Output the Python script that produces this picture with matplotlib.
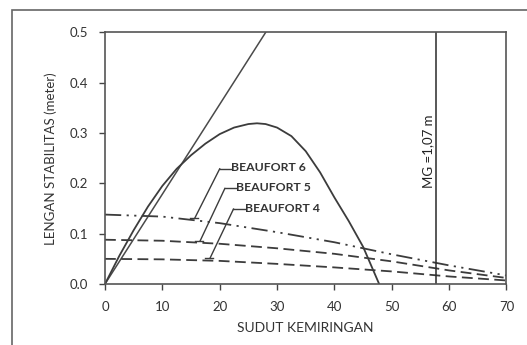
import matplotlib
matplotlib.use("Agg")
import matplotlib.pyplot as plt
from matplotlib.patches import Rectangle

plt.rcParams['font.family'] = ['Lato', 'DejaVu Sans']

# Heel angle (degrees) and righting arm GZ (m)
gz_angle = [0, 2.5, 5, 7.5, 10, 12.5, 15, 17.5, 20, 22.5, 25, 26.5, 28, 30, 32.5, 35, 37.5, 40, 42.5, 45, 47.8]
gz_value = [0, 0.056, 0.107, 0.154, 0.195, 0.229, 0.256, 0.279, 0.298, 0.311, 0.318, 0.3195, 0.318, 0.311, 0.294, 0.264, 0.222, 0.172, 0.125, 0.074, 0.0]

# Initial GM tangent line
tangent_angle = [0, 28.0]
tangent_value = [0, 0.5]

# Wind heeling arms
wind_angle = [0, 10, 20, 30, 40, 50, 60, 70]
beaufort6 = [0.138, 0.134, 0.121, 0.103, 0.083, 0.059, 0.037, 0.017]
beaufort5 = [0.088, 0.086, 0.080, 0.071, 0.060, 0.045, 0.027, 0.012]
beaufort4 = [0.050, 0.049, 0.046, 0.040, 0.033, 0.025, 0.015, 0.007]

mg_angle = 57.7
mg_label = "MG =1,07 m"

x_ticks = [0, 10, 20, 30, 40, 50, 60, 70]
y_ticks = [0.0, 0.1, 0.2, 0.3, 0.4, 0.5]

# Callouts: (text, tip angle, tip value, elbow angle, elbow value)
callouts = [
    ("BEAUFORT 6", 15.7, 0.132, 20.0, 0.229),
    ("BEAUFORT 5", 16.6, 0.086, 20.9, 0.190),
    ("BEAUFORT 4", 18.3, 0.051, 22.4, 0.149),
]

line_c = '#3c3c3c'
fig = plt.figure(figsize=(5.27, 3.45), dpi=100)
ax = fig.add_axes([0.1992, 0.1768, 0.7619, 0.729])

ax.plot(tangent_angle, tangent_value, color='#4a4a4a', lw=1.1)
ax.plot(gz_angle, gz_value, color=line_c, lw=1.3)
ax.plot(wind_angle, beaufort6, color=line_c, lw=1.3, dashes=(9, 3, 1.2, 3, 1.2, 3))
ax.plot(wind_angle, beaufort5, color=line_c, lw=1.3, dashes=(6, 3))
ax.plot(wind_angle, beaufort4, color=line_c, lw=1.3, dashes=(6, 3))
ax.plot([mg_angle, mg_angle], [0, 0.5], color='#2a2a2a', lw=1.1)
ax.text(mg_angle - 1.3, 0.264, mg_label, rotation=90, ha='center', va='center',
        fontsize=9.5, color='#222222')

for text, tx, ty, ex, ey in callouts:
    ax.plot([tx - 0.9, tx + 0.5], [ty, ty], color=line_c, lw=1.0)
    ax.plot([tx, ex], [ty, ey], color=line_c, lw=1.0)
    ax.plot([ex, ex + 2.0], [ey, ey], color=line_c, lw=1.0)
    ax.text(ex + 2.0, ey + 0.002, text, ha='left', va='center', fontsize=8.8,
            fontweight='bold', color='#333333')

ax.set_xlim(0, 70)
ax.set_ylim(0, 0.5)
ax.set_xticks(x_ticks)
ax.set_yticks(y_ticks)
ax.set_yticklabels([f"{v:.1f}" for v in y_ticks])
ax.tick_params(direction='out', length=4, width=1, color='#444444',
               labelsize=9.5, labelcolor='#333333')
ax.tick_params(axis='x', pad=8.5)
ax.tick_params(axis='y', pad=8)
for s in ax.spines.values():
    s.set_color('#555555')
    s.set_linewidth(1.2)
ax.set_xlabel("SUDUT KEMIRINGAN", fontsize=10, color='#333333', labelpad=6)
ax.set_ylabel("LENGAN STABILITAS (meter)", fontsize=9.5, color='#333333', labelpad=9)

# Outer border of the chart area
fig.patches.append(Rectangle((12 / 527, -0.1), 1.2, 1 - 10 / 345 + 0.1,
                             transform=fig.transFigure, fill=False,
                             edgecolor='#666666', lw=1.2))

fig.savefig("out.png", dpi=100)
